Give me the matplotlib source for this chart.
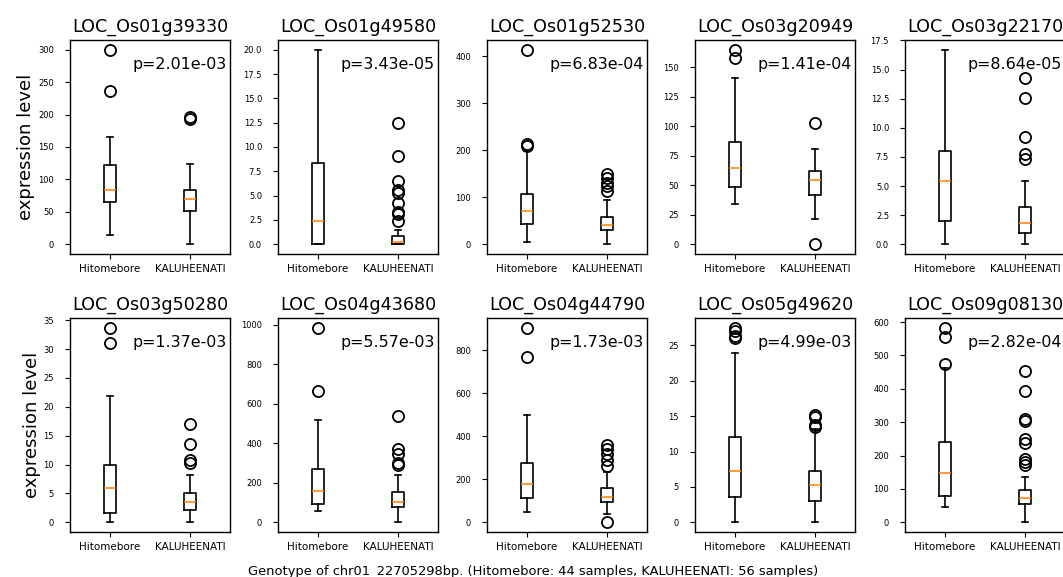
import matplotlib
matplotlib.use("Agg")
import matplotlib.pyplot as plt

# gene panels, in reading order (2 rows x 5 columns)
genes = ["LOC_Os01g39330", "LOC_Os01g49580", "LOC_Os01g52530", "LOC_Os03g20949", "LOC_Os03g22170",
         "LOC_Os03g50280", "LOC_Os04g43680", "LOC_Os04g44790", "LOC_Os05g49620", "LOC_Os09g08130"]
pvals = ["2.01e-03", "3.43e-05", "6.83e-04", "1.41e-04", "8.64e-05",
         "1.37e-03", "5.57e-03", "1.73e-03", "4.99e-03", "2.82e-04"]
groups = ["Hitomebore", "KALUHEENATI"]

# box statistics: Hitomebore
hito_whislo = [15, 0, 5.6, 34.4, 0, 0, 59, 46, 0, 46]
hito_q1 = [65, 0, 44, 48.3, 1.99, 1.55, 92, 113, 3.6, 80]
hito_med = [84, 2.4, 70.5, 64.8, 5.45, 6.0, 156, 178, 7.2, 147]
hito_q3 = [122, 8.34, 106, 87, 8.0, 10.0, 272, 278, 12.0, 240]
hito_whishi = [166, 20.0, 197.5, 141, 16.7, 21.9, 516, 499, 23.9, 461]
hito_fliers = [[300, 237], [], [414, 214, 210], [164.8, 157.8], [],
               [33.7, 31.0], [986, 667], [906, 772], [27.5, 27.0, 26.3, 26.0], [583, 554, 475]]

# KALUHEENATI
kalu_whislo = [0, 0, 0, 21.5, 0, 0, 0, 39, 0, 0]
kalu_q1 = [52, 0.02, 29.6, 41.9, 1.0, 2.18, 79, 96, 3.0, 54]
kalu_med = [70.5, 0.27, 40, 54.5, 1.84, 3.56, 104, 120, 5.2, 73.5]
kalu_q3 = [84, 0.8, 58.6, 62, 3.2, 5.0, 151, 158, 7.2, 96]
kalu_whishi = [124, 1.5, 95, 81, 5.47, 8.2, 240, 236, 13.2, 135]
kalu_fliers = [[193, 196], [12.45, 9.1, 6.5, 5.6, 5.3, 4.2, 3.35, 3.15, 2.4],
               [150, 140, 130, 123, 113], [102.5, 0], [14.3, 12.56, 9.2, 7.74, 7.3],
               [17.0, 13.5, 10.8, 10.3], [538, 373, 345, 299, 291],
               [358, 343, 317, 290, 263, 0], [15.2, 14.9, 13.8, 13.5],
               [453, 392, 309, 302, 250, 237, 191, 181, 172]]

n_hito, n_kalu = 44, 56
xlabel = (f"Genotype of chr01_22705298bp. (Hitomebore: {n_hito} samples, "
          f"KALUHEENATI: {n_kalu} samples)")

W, H = 1063, 577
fig = plt.figure(figsize=(W / 100, H / 100), dpi=100)

col_left = [70, 278, 487, 695, 905]   # px
row_top = [40, 318]                    # px
ax_w, ax_h = 160, 214


def stats(i, lo, q1, med, q3, hi, fl, label):
    return dict(label=label, whislo=lo[i], q1=q1[i], med=med[i], q3=q3[i],
                whishi=hi[i], fliers=fl[i])


for i, gene in enumerate(genes):
    r, c = divmod(i, 5)
    ax = fig.add_axes([col_left[c] / W, 1 - (row_top[r] + ax_h) / H, ax_w / W, ax_h / H])
    bx = [stats(i, hito_whislo, hito_q1, hito_med, hito_q3, hito_whishi, hito_fliers, groups[0]),
          stats(i, kalu_whislo, kalu_q1, kalu_med, kalu_q3, kalu_whishi, kalu_fliers, groups[1])]
    ax.bxp(bx, widths=0.16, showfliers=True,
           flierprops=dict(marker="o", markersize=8, markerfacecolor="none",
                           markeredgecolor="black", markeredgewidth=1.3),
           medianprops=dict(color="#ff7f0e", linewidth=1.1),
           boxprops=dict(linewidth=1.2), whiskerprops=dict(linewidth=1.2),
           capprops=dict(linewidth=1.2))
    ax.set_title(gene, fontsize=12.6)
    ax.text(0.98, 0.885, f"p={pvals[i]}", transform=ax.transAxes,
            ha="right", va="center", fontsize=11.4)
    ax.tick_params(axis="y", labelsize=6, pad=8)
    ax.tick_params(axis="x", labelsize=7.5)
    for s in ax.spines.values():
        s.set_linewidth(1.0)
    if c == 0:
        ax.set_ylabel("expression level", fontsize=13, labelpad=2)

fig.text(533 / W, 2 / H, xlabel, ha="center", va="baseline", fontsize=9.4)

fig.savefig("out.png", dpi=100)
